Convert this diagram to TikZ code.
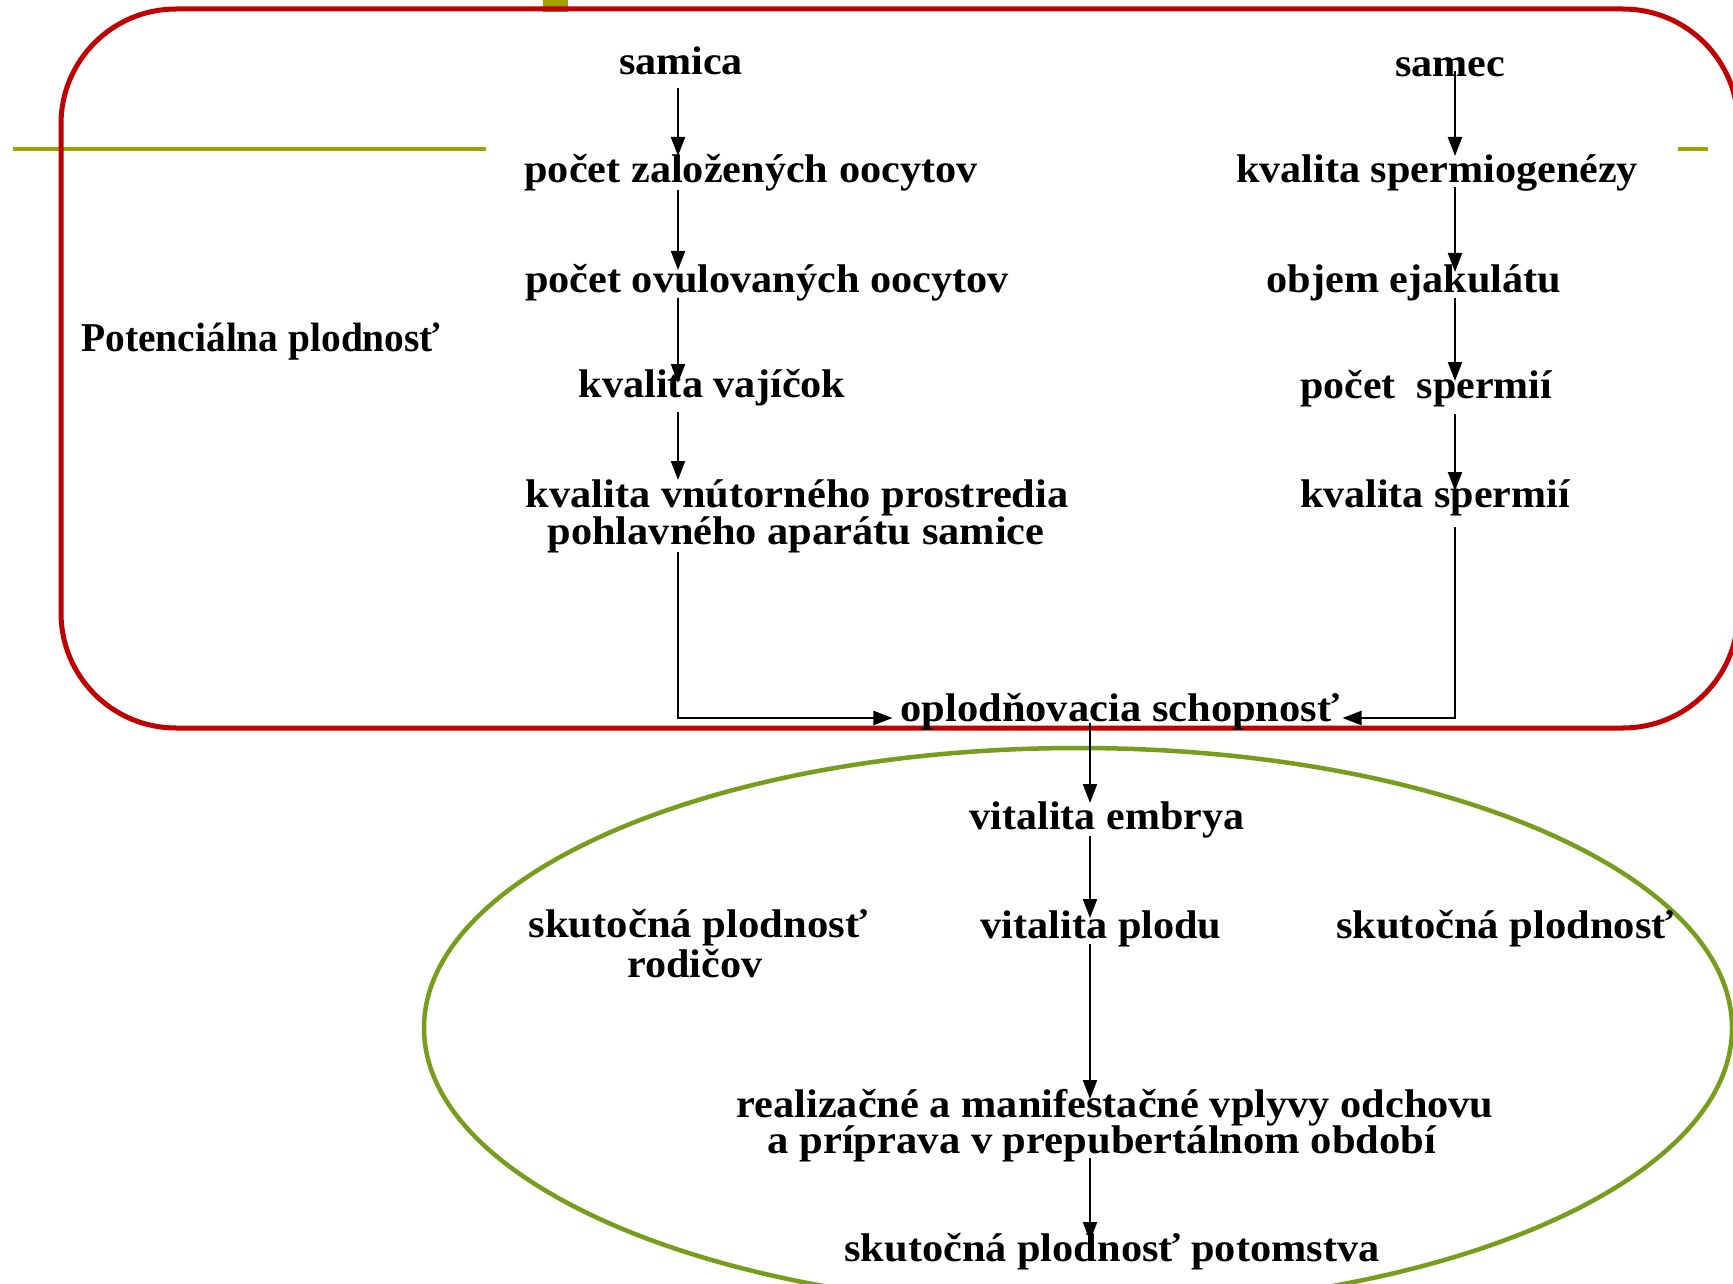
\documentclass[tikz,border=0pt]{standalone}
\usepackage{fontspec}
\setmainfont{Liberation Serif}
\usepackage{graphicx}
\usetikzlibrary{arrows.meta,calc}
\definecolor{redframe}{RGB}{192,0,0}
\definecolor{oliveline}{RGB}{163,163,0}
\definecolor{greenell}{RGB}{118,158,28}
\newcommand{\fw}[2]{\resizebox{#1pt}{\height}{#2}}
\begin{document}
\begin{tikzpicture}[x=1pt,y=-1pt,
  txt/.style={inner sep=0pt, outer sep=0pt, anchor=base, font=\fontsize{40}{44}\selectfont\bfseries},
  bigtxt/.style={inner sep=0pt, outer sep=0pt, anchor=base, font=\fontsize{41}{46}\selectfont\bfseries},
  arr/.style={line width=2.2pt, -{Triangle[length=19pt,width=14pt]}},
  frame/.style={draw=redframe, line width=5pt, rounded corners=115pt},
  oval/.style={draw=greenell, line width=4.5pt},
  deco/.style={draw=oliveline, line width=4pt}]
\useasboundingbox (0,0) rectangle (1733,1284);
\clip (0,0) rectangle (1733,1284);
\fill[white] (0,0) rectangle (1733,1284);

% decorations
\draw[deco] (13,149) -- (486,149);
\draw[deco] (1678,149) -- (1708,149);
\fill[oliveline] (543,0) rectangle (568,12);
\path[frame] (61,9) rectangle (1738,728);
\path[oval] (1078,1028) ellipse [x radius=654, y radius=280];

% column coordinates
\coordinate (Lc) at (678,0);
\coordinate (Rc) at (1455,0);
\coordinate (Cc) at (1090,0);

% texts
\node[bigtxt] (pot) at (261,351) {\fw{359}{Potenciálna plodnosť}};

\node[txt] (samica) at (681,75) {\fw{124}{samica}};
\node[txt] (zal) at (751,183) {\fw{453}{počet založených oocytov}};
\node[txt] (ovu) at (767,292) {\fw{484}{počet ovulovaných oocytov}};
\node[txt] (vaj) at (712,397) {\fw{267}{kvalita vajíčok}};
\node[txt] (vnut1) at (797,507) {\fw{543}{kvalita vnútorného prostredia}};
\node[txt] (vnut2) at (796,544) {\fw{497}{pohlavného aparátu samice}};

\node[txt] (samec) at (1450,77) {\fw{110}{samec}};
\node[txt] (sperg) at (1437,183) {\fw{402}{kvalita spermiogenézy}};
\node[txt] (objem) at (1414,293) {\fw{295}{objem ejakulátu}};
\node[txt] (pocsp) at (1426,398) {\fw{252}{počet\ \ spermií}};
\node[txt] (kvsp) at (1435,507) {\fw{270}{kvalita spermií}};

\node[txt] (oplod) at (1120,721) {\fw{439}{oplodňovacia schopnosť}};
\node[txt] (embr) at (1107,829) {\fw{274}{vitalita embrya}};
\node[txt] (plodu) at (1101,938) {\fw{241}{vitalita plodu}};
\node[txt] (skl1) at (698,937) {\fw{339}{skutočná plodnosť}};
\node[txt] (skl2) at (695,977) {\fw{135}{rodičov}};
\node[txt] (skr) at (1505,938) {\fw{338}{skutočná plodnosť}};
\node[txt] (real1) at (1115,1117) {\fw{757}{realizačné a manifestačné vplyvy odchovu}};
\node[txt] (real2) at (1102,1153) {\fw{669}{a príprava v prepubertálnom období}};
\node[txt] (potom) at (1112,1261) {\fw{535}{skutočná plodnosť potomstva}};

% left column connectors
\draw[arr] ($(samica.base -| Lc)+(0,13)$) -- ($(zal.base -| Lc)+(0,-27)$);
\draw[arr] ($(zal.base -| Lc)+(0,7)$) -- ($(ovu.base -| Lc)+(0,-22)$);
\draw[arr] ($(ovu.base -| Lc)+(0,6)$) -- ($(vaj.base -| Lc)+(0,-14)$);
\draw[arr] ($(vaj.base -| Lc)+(0,15)$) -- ($(vnut1.base -| Lc)+(0,-27)$);
\draw[arr] ($(vnut2.base -| Lc)+(0,8)$) |- ($(oplod.base west)+(-8,-3)$);

% right column connectors
\draw[arr] ($(samec.base -| Rc)+(0,-6)$) -- ($(sperg.base -| Rc)+(0,-27)$);
\draw[arr] ($(sperg.base -| Rc)+(0,4)$) -- ($(objem.base -| Rc)+(0,-21)$);
\draw[arr] ($(objem.base -| Rc)+(0,5)$) -- ($(pocsp.base -| Rc)+(0,-17)$);
\draw[arr] ($(pocsp.base -| Rc)+(0,16)$) -- ($(kvsp.base -| Rc)+(0,-16)$);
\draw[arr] ($(kvsp.base -| Rc)+(0,20)$) |- ($(oplod.base east)+(3,-3)$);

% centre column connectors
\draw[arr] ($(oplod.base -| Cc)+(0,2)$) -- ($(embr.base -| Cc)+(0,-26)$);
\draw[arr] ($(embr.base -| Cc)+(0,7)$) -- ($(plodu.base -| Cc)+(0,-20)$);
\draw[arr] ($(plodu.base -| Cc)+(0,6)$) -- ($(real1.base -| Cc)+(0,-18)$);
\draw[arr] ($(real2.base -| Cc)+(0,5)$) -- ($(potom.base -| Cc)+(0,-20)$);
\end{tikzpicture}
\end{document}
